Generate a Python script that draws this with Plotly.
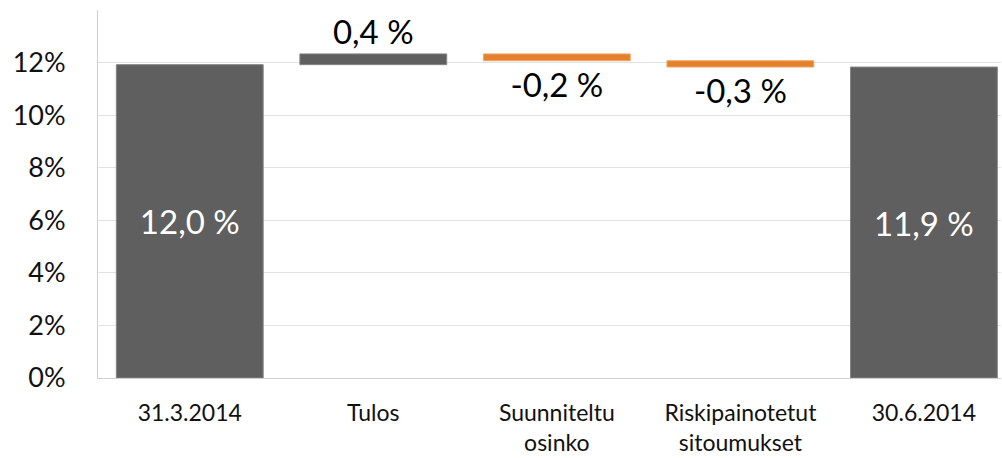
import plotly.graph_objects as go

categories = ["31.3.2014", "Tulos", "Suunniteltu<br>osinko", "Riskipainotetut<br>sitoumukset", "30.6.2014"]
measures = ["absolute", "relative", "relative", "relative", "total"]
values = [11.92, 0.41, -0.26, -0.24, 0]
labels = ["12,0 %", "0,4 %", "-0,2 %", "-0,3 %", "11,9 %"]
label_pos = ["inside", "outside", "outside", "outside", "inside"]
label_colors = ["white", "black", "black", "black", "white"]
ytick_vals = [0, 2, 4, 6, 8, 10, 12, 14]
ytick_text = ["0%", "2%", "4%", "6%", "8%", "10%", "12%", ""]

GRAY = "#5f5f5f"
ORANGE = "#e4812c"
FONT = "Lato"

fig = go.Figure(go.Waterfall(
    x=categories,
    y=values,
    measure=measures,
    text=labels,
    textposition=label_pos,
    insidetextanchor="middle",
    textfont=dict(size=33, color=label_colors, family=FONT),
    constraintext="none",
    cliponaxis=False,
    increasing=dict(marker=dict(color=GRAY, line=dict(color="#858585", width=1))),
    decreasing=dict(marker=dict(color=ORANGE, line=dict(color="#f2a566", width=1))),
    totals=dict(marker=dict(color=GRAY, line=dict(color="#858585", width=1))),
    connector=dict(visible=False),
    hoverinfo="skip",
))

fig.update_layout(
    width=1002, height=458,
    margin=dict(l=98, r=1, t=10, b=80),
    paper_bgcolor="white", plot_bgcolor="white",
    showlegend=False,
    bargap=0.19,
    font=dict(family=FONT, color="#111111"),
)
fig.update_yaxes(
    range=[0, 14], tickvals=ytick_vals, ticktext=ytick_text,
    showgrid=True, gridcolor="#e3e3e3", gridwidth=1,
    showline=True, linecolor="#d0d0d0", linewidth=1,
    tickfont=dict(size=27, family=FONT, color="#111111"),
    ticklabelstandoff=26, zeroline=False, automargin=False,
)
fig.update_xaxes(
    range=[-0.5, 4.42],
    showline=True, linecolor="#d0d0d0", linewidth=1,
    tickfont=dict(size=23, family=FONT, color="#111111"),
    ticklabelstandoff=14, automargin=False,
)

fig.write_html("out.html", config={"displayModeBar": False})
with open("out.html", encoding="utf-8") as f:
    html = f.read()
html = html.replace("<head>", "<head><style>html,body{margin:0;padding:0;overflow:hidden}</style>", 1)
with open("out.html", "w", encoding="utf-8") as f:
    f.write(html)
